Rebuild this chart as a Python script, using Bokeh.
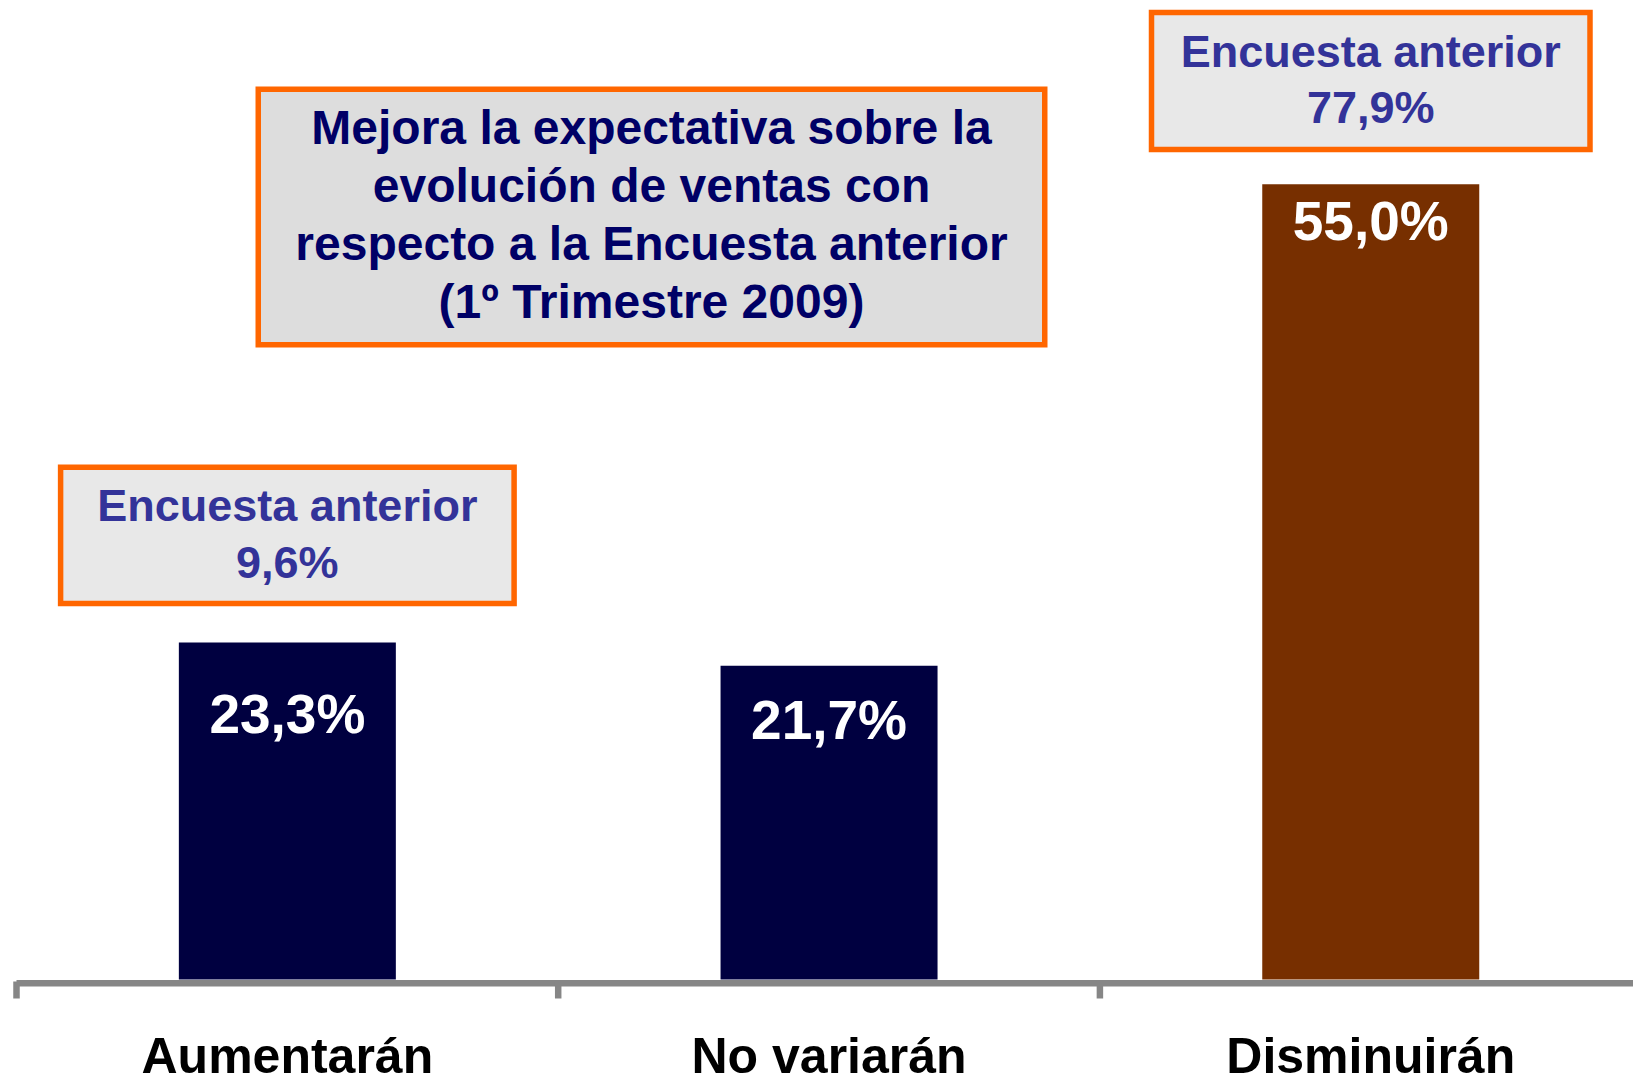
from bokeh.plotting import figure
from bokeh.models import Range1d, ColumnDataSource
from bokeh.embed import file_html
from bokeh.resources import INLINE
from bokeh.core.properties import value

# ---------------- data ----------------
categories = ["Aumentarán", "No variarán", "Disminuirán"]
current_values = [23.3, 21.7, 55.0]
current_labels = ["23,3%", "21,7%", "55,0%"]

previous_categories = ["Aumentarán", "Disminuirán"]
previous_values = [9.6, 77.9]
previous_labels = ["9,6%", "77,9%"]
previous_title = "Encuesta anterior"

note_lines = [
    "Mejora la expectativa sobre la",
    "evolución de ventas con",
    "respecto a la Encuesta anterior",
    "(1º Trimestre 2009)",
]

# ---------------- layout helpers (page pixels -> data) ----------------
W, H = 1633, 1076
PAGE = 0
X0, UX = 16.0, 541.7     # page x of first category edge, px per category
Y0, UY = 979.0, 14.46    # page y of 0 %, px per percentage point


def dx(px):
    return (px - X0) / UX


def dy(py):
    return (Y0 - py) / UY


FONT = value("Liberation Sans")
NAVY = "#000040"
BROWN = "#772F00"
AXIS_GRAY = "#868686"
ORANGE = "#FF6600"

p = figure(width=W, height=H,
           x_range=Range1d(dx(PAGE), dx(PAGE + W)),
           y_range=Range1d(dy(PAGE + H), dy(PAGE)),
           x_axis_location=None, y_axis_location=None,
           toolbar_location=None, tools="", output_backend="svg",
           min_border=0, outline_line_color=None)
p.grid.visible = False
p.background_fill_color = "white"
p.border_fill_color = "white"

# ---------------- bars ----------------
centers = [i + 0.5 for i in range(len(categories))]
bar_colors = [NAVY, NAVY, BROWN]
label_offsets_px = [71, 54, 37]   # label centre below bar top

src = ColumnDataSource(dict(
    x=centers, top=current_values, color=bar_colors, label=current_labels,
    ly=[v - o / UY for v, o in zip(current_values, label_offsets_px)],
))
p.vbar(x="x", top="top", bottom=0, width=217 / UX, fill_color="color",
       line_color=None, source=src)
p.text(x="x", y="ly", text="label", source=src, text_color="white",
       text_font=FONT, text_font_style="bold", text_font_size="55px",
       text_align="center", text_baseline="middle")

# ---------------- category axis ----------------
edges = list(range(len(categories) + 1))
p.segment(x0=[0], y0=[dy(982.7)], x1=[dx(PAGE + W) + 0.1], y1=[dy(982.7)],
          line_color=AXIS_GRAY, line_width=6.5, line_cap="butt")
p.segment(x0=edges, y0=[dy(981)] * len(edges), x1=edges, y1=[dy(998)] * len(edges),
          line_color=AXIS_GRAY, line_width=6.5, line_cap="butt")
p.text(x=centers, y=[dy(1055)] * len(centers), text=categories,
       text_color="black", text_font=FONT, text_font_style="bold",
       text_font_size="50px", text_align="center", text_baseline="middle")

# ---------------- previous-survey boxes ----------------
BORDER = 5.5
half = BORDER / 2
prev_x = [centers[categories.index(c)] for c in previous_categories]
box_w_px = [459, 444]
box_top_px = [464, 9.3]
box_bot_px = [605.7, 151.7]
p.quad(left=[x - (w / 2 - half) / UX for x, w in zip(prev_x, box_w_px)],
       right=[x + (w / 2 - half) / UX for x, w in zip(prev_x, box_w_px)],
       top=[dy(t + half) for t in box_top_px],
       bottom=[dy(b - half) for b in box_bot_px],
       fill_color="#E8E8E8", line_color=ORANGE, line_width=BORDER, line_join="miter")
line1_y = [dy(505), dy(51)]
line2_y = [dy(562), dy(107)]
p.text(x=prev_x, y=line1_y, text=[previous_title] * len(prev_x),
       text_color="#333399", text_font=FONT, text_font_style="bold",
       text_font_size="45px", text_align="center", text_baseline="middle")
p.text(x=prev_x, y=line2_y, text=previous_labels,
       text_color="#333399", text_font=FONT, text_font_style="bold",
       text_font_size="45px", text_align="center", text_baseline="middle")

# ---------------- note box ----------------
p.quad(left=[dx(255 + half)], right=[dx(1047 - half)],
       top=[dy(86 + half)], bottom=[dy(347 - half)],
       fill_color="#DDDDDD", line_color=ORANGE, line_width=BORDER, line_join="miter")
note_y = [dy(127 + 58 * i) for i in range(len(note_lines))]
p.text(x=[dx(651)] * len(note_lines), y=note_y, text=note_lines,
       text_color="#000066", text_font=FONT, text_font_style="bold",
       text_font_size="48px", text_align="center", text_baseline="middle")

open("out.html", "w").write(file_html(p, INLINE))
